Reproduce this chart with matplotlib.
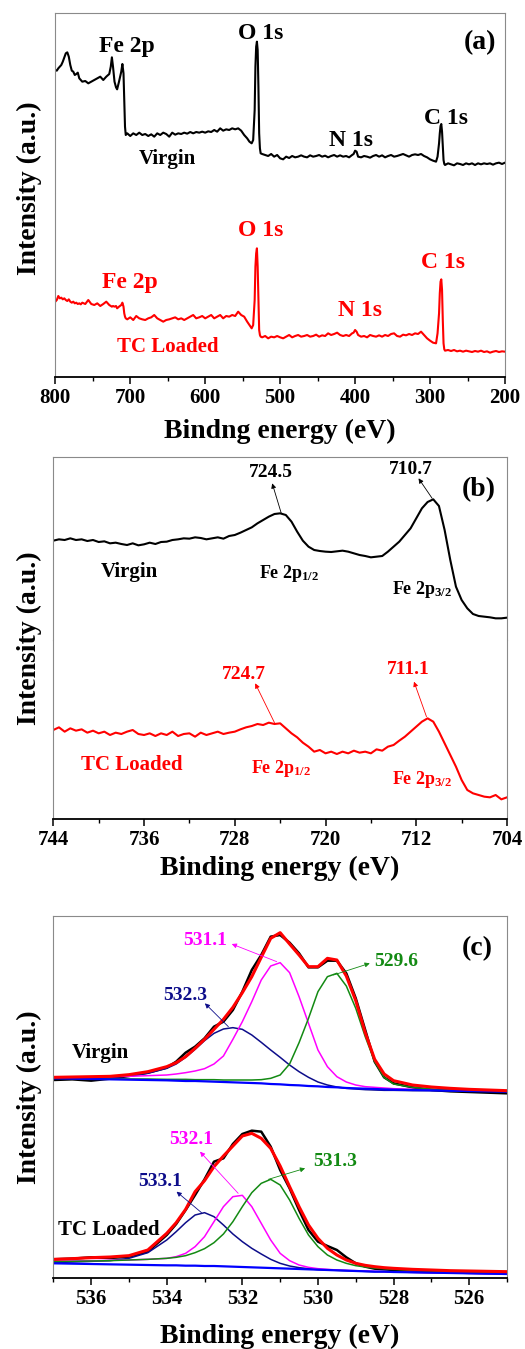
import numpy as np
import matplotlib
matplotlib.use("Agg")
import matplotlib.pyplot as plt
from matplotlib.ticker import MultipleLocator

plt.rcParams['font.family'] = ['Liberation Serif', 'DejaVu Serif']
plt.rcParams['font.weight'] = 'bold'
plt.rcParams['mathtext.fontset'] = 'custom'
plt.rcParams['mathtext.rm'] = 'Liberation Serif:bold'
plt.rcParams['mathtext.it'] = 'Liberation Serif:bold'
plt.rcParams['mathtext.bf'] = 'Liberation Serif:bold'
plt.rcParams['mathtext.default'] = 'rm'

W, H = 525, 1349

# ---------------- (a) survey spectra ----------------
survey_ev = [800, 798, 796, 794, 792, 790, 788, 786, 784, 782, 780, 778, 776, 774, 772, 770,
             768, 766, 764, 760, 756, 752, 748, 744, 740, 736, 732, 728, 726, 724.5, 723, 721,
             719, 717.5, 715, 712, 710.5, 709, 708, 707, 706, 704, 700, 696, 692, 688, 684, 680,
             676, 672, 668, 664, 660, 656, 652, 648, 644, 640, 636, 632, 628, 624, 620, 616,
             612, 608, 604, 600, 596, 592, 588, 584, 580, 576, 572, 568, 564, 560, 556, 552,
             548, 544, 541, 538, 536, 534, 533, 532, 531, 530, 529, 528, 527, 526, 524, 520,
             516, 512, 508, 504, 500, 496, 492, 488, 484, 480, 476, 472, 468, 464, 460, 456,
             452, 448, 444, 440, 436, 432, 428, 424, 420, 416, 412, 408, 404, 402, 400, 398,
             396, 392, 388, 384, 380, 376, 372, 368, 364, 360, 356, 352, 348, 344, 340, 336,
             332, 328, 324, 320, 316, 312, 308, 304, 300, 296, 292, 290, 288, 287, 286, 285,
             284, 283, 282, 281, 280, 276, 272, 268, 264, 260, 256, 252, 248, 244, 240, 236,
             232, 228, 224, 220, 216, 212, 208, 204, 200]
survey_virgin = [920, 918, 925, 930, 935, 945, 958, 970, 973, 960, 935, 918, 915, 905, 908, 912,
                 895, 890, 885, 887, 880, 885, 890, 895, 900, 890, 900, 908, 930, 958, 930, 885,
                 868, 862, 885, 915, 938, 910, 830, 750, 725, 730, 722, 730, 725, 732, 725, 728,
                 722, 727, 720, 730, 725, 732, 728, 720, 732, 726, 730, 728, 732, 729, 734, 730,
                 734, 732, 735, 732, 736, 734, 740, 735, 745, 738, 742, 740, 745, 742, 745, 738,
                 725, 715, 705, 700, 710, 800, 930, 990, 1005, 980, 870, 730, 685, 670, 668, 665,
                 662, 668, 660, 665, 655, 652, 660, 656, 662, 658, 660, 664, 660, 658, 664, 660,
                 662, 665, 660, 663, 658, 662, 665, 660, 664, 660, 662, 658, 665, 668, 678, 675,
                 660, 658, 662, 660, 657, 662, 665, 660, 664, 658, 662, 665, 660, 662, 665, 668,
                 664, 660, 665, 667, 665, 668, 662, 658, 652, 648, 645, 660, 700, 730, 752, 758,
                 735, 690, 650, 638, 635, 640, 637, 634, 640, 638, 635, 640, 637, 640, 635, 640,
                 637, 640, 638, 640, 636, 640, 642, 638, 642]
survey_loaded = [225, 230, 242, 235, 237, 232, 235, 230, 227, 232, 225, 222, 225, 220, 222, 218,
                 220, 217, 222, 218, 230, 218, 215, 220, 212, 218, 225, 215, 212, 210, 212, 210,
                 212, 205, 210, 215, 222, 210, 190, 180, 175, 172, 178, 170, 182, 175, 172, 170,
                 175, 178, 185, 175, 170, 165, 170, 172, 175, 178, 172, 175, 170, 175, 180, 185,
                 175, 178, 182, 175, 180, 185, 175, 180, 185, 175, 182, 180, 185, 182, 195, 185,
                 180, 165, 155, 145, 155, 230, 330, 370, 385, 330, 230, 140, 125, 120, 118, 122,
                 115, 120, 118, 122, 118, 115, 120, 125, 118, 122, 125, 120, 122, 125, 120, 122,
                 126, 120, 124, 122, 130, 125, 128, 132, 125, 122, 125, 122, 130, 132, 140, 135,
                 125, 120, 122, 118, 125, 122, 120, 124, 120, 125, 122, 128, 130, 122, 120, 126,
                 124, 128, 125, 130, 128, 135, 125, 115, 108, 102, 100, 130, 190, 250, 285, 292,
                 260, 170, 100, 82, 78, 80, 77, 80, 76, 78, 75, 78, 76, 74, 77, 75,
                 78, 74, 76, 72, 75, 77, 74, 76, 75]

# ---------------- (b) Fe 2p ----------------
fe_ev = [744.0, 743.5, 743.0, 742.5, 742.0, 741.5, 741.0, 740.5, 740.0, 739.5, 739.0, 738.5,
         738.0, 737.5, 737.0, 736.5, 736.0, 735.5, 735.0, 734.5, 734.0, 733.5, 733.0, 732.5,
         732.0, 731.5, 731.0, 730.5, 730.0, 729.5, 729.0, 728.5, 728.0, 727.5, 727.0, 726.5,
         726.0, 725.5, 725.0, 724.5, 724.0, 723.5, 723.0, 722.5, 722.0, 721.5, 721.0, 720.5,
         720.0, 719.5, 719.0, 718.5, 718.0, 717.5, 717.0, 716.5, 716.0, 715.5, 715.0, 714.5,
         714.0, 713.5, 713.0, 712.5, 712.0, 711.5, 711.0, 710.5, 710.0, 709.5, 709.0, 708.5,
         708.0, 707.5, 707.0, 706.5, 706.0, 705.5, 705.0, 704.5, 704.0]
fe_virgin = [836, 840, 838, 843, 838, 840, 835, 838, 832, 834, 828, 830,
             826, 823, 828, 822, 825, 830, 826, 832, 833, 838, 840, 843,
             842, 846, 844, 840, 843, 846, 842, 850, 853, 860, 868, 876,
             888, 898, 908, 916, 918, 913, 893, 863, 836, 818, 808, 805,
             803, 802, 804, 806, 803, 798, 793, 790, 786, 788, 790, 803,
             818, 833, 853, 873, 903, 933, 952, 960, 940, 868, 778, 698,
             658, 633, 616, 610, 608, 606, 603, 603, 605]
fe_loaded = [268, 276, 263, 273, 266, 270, 260, 266, 258, 263, 253, 260,
             256, 263, 268, 256, 253, 258, 250, 258, 253, 263, 250, 256,
             258, 248, 260, 253, 258, 263, 256, 260, 263, 270, 276, 280,
             286, 283, 290, 286, 288, 273, 258, 246, 230, 218, 203, 208,
             198, 203, 196, 203, 198, 206, 200, 203, 198, 210, 206, 218,
             223, 236, 248, 263, 278, 293, 303, 293, 263, 228, 193, 158,
             118, 88, 78, 73, 68, 66, 73, 60, 66]

# ---------------- (c) O 1s ----------------
o_ev = [537, 536.5, 536, 535.5, 535, 534.5, 534, 533.75, 533.5, 533.25, 533, 532.75, 532.5,
        532.25, 532, 531.75, 531.5, 531.25, 531, 530.75, 530.5, 530.25, 530, 529.75, 529.5,
        529.25, 529, 528.75, 528.5, 528.25, 528, 527.5, 527, 526.5, 526, 525.5, 525]
o_virgin_raw = [594, 596, 592, 598, 606, 616, 631, 649, 676, 694, 719, 754, 769,
                804, 859, 924, 969, 1024, 1029, 1006, 974, 932, 932, 952, 952,
                914, 839, 744, 649, 602, 584, 572, 564, 560, 558, 556, 554]
o_virgin_fit = [602, 603, 604, 605, 610, 619, 634, 646, 664, 689, 716, 746, 776,
                812, 856, 904, 962, 1019, 1036, 1002, 969, 934, 934, 959, 954,
                906, 832, 736, 656, 612, 592, 579, 573, 569, 566, 564, 562]
o_virgin_bg = [599, 598, 597, 596, 595, 594, 593, 592, 591, 591, 590, 589, 588,
               587, 586, 585, 584, 582, 581, 579, 578, 576, 575, 573, 572,
               570, 569, 568, 567, 566, 565, 564, 563, 562, 561, 560, 559]
o_virgin_p1 = [599, 600, 601, 602, 606, 614, 629, 642, 662, 686, 712, 734, 747,
               751, 746, 729, 707, 684, 662, 639, 619, 602, 588, 579, 573,
               569, 567, 565, 564, 563, 563, 562, 562, 561, 560, 560, 559]
o_virgin_p2 = [602, 602, 603, 604, 605, 607, 609, 612, 616, 621, 628, 642, 666,
               716, 769, 829, 894, 936, 946, 916, 844, 764, 684, 634, 604,
               588, 579, 574, 572, 570, 568, 566, 565, 564, 563, 562, 561]
o_virgin_p3 = [599, 599, 598, 598, 597, 597, 596, 596, 596, 595, 595, 595, 594,
               594, 594, 594, 595, 599, 609, 642, 706, 779, 859, 904, 914,
               876, 809, 724, 649, 602, 582, 572, 567, 564, 563, 562, 561]

o_loaded_raw = [56, 58, 62, 60, 64, 79, 129, 162, 204, 249, 296, 349, 359,
                402, 432, 442, 439, 394, 324, 269, 204, 144, 109, 96, 84,
                62, 44, 34, 28, 26, 24, 21, 19, 18, 16, 17, 14]
o_loaded_fit = [56, 58, 61, 63, 67, 84, 134, 166, 206, 259, 292, 334, 366,
                396, 426, 434, 419, 389, 336, 274, 214, 159, 119, 89, 69,
                54, 44, 38, 34, 31, 29, 26, 24, 22, 21, 20, 19]
o_loaded_bg = [44, 43, 42, 41, 40, 39, 38, 38, 37, 37, 36, 36, 35,
               34, 33, 32, 31, 30, 29, 28, 27, 26, 25, 24, 23,
               22, 21, 20, 19, 19, 18, 17, 16, 15, 14, 13, 12]
o_loaded_p1 = [46, 48, 50, 52, 59, 76, 114, 139, 166, 189, 196, 184, 159,
               132, 109, 89, 72, 56, 44, 36, 31, 28, 25, 24, 23,
               22, 21, 20, 19, 19, 18, 17, 16, 15, 14, 13, 12]
o_loaded_p2 = [50, 51, 52, 53, 54, 56, 59, 64, 74, 94, 124, 169, 214,
               244, 248, 214, 164, 114, 74, 52, 39, 32, 28, 26, 24,
               23, 22, 21, 20, 19, 18, 17, 16, 15, 14, 13, 13]
o_loaded_p3 = [49, 50, 51, 52, 54, 56, 59, 62, 67, 76, 88, 106, 132,
               169, 214, 256, 284, 296, 279, 234, 179, 129, 94, 69, 54,
               44, 37, 33, 30, 28, 26, 23, 21, 19, 18, 17, 16]

NAVY = '#0d0d8a'
MAGENTA = '#ff00ff'
GREEN = '#138a13'


def stacked_axes(fig, y0, z_top, z_gap, z_bot, left_px, right_px):
    # two layers on top of each other, like an Origin stacked graph
    top_px = y0 + z_top / 3
    gap_px = y0 + z_gap / 3
    bot_px = y0 + z_bot / 3
    x0 = left_px / W
    w = (right_px - left_px) / W
    ax_hi = fig.add_axes([x0, 1 - (gap_px - 0.5) / H, w, (gap_px - 0.5 - top_px) / H])
    ax_lo = fig.add_axes([x0, 1 - bot_px / H, w, (bot_px - gap_px - 0.5) / H])
    ax_hi.set_ylim(z_bot - z_gap + 1.5, z_bot - z_top)
    ax_lo.set_ylim(0, z_bot - z_gap - 1.5)
    for ax in (ax_hi, ax_lo):
        for side in ('left', 'right', 'top'):
            ax.spines[side].set_color('#8a8a8a')
            ax.spines[side].set_linewidth(0.8)
        ax.spines['bottom'].set_color('black')
        ax.spines['bottom'].set_linewidth(1.3)
        ax.set_yticks([])
    ax_hi.spines['bottom'].set_visible(False)
    ax_lo.spines['top'].set_visible(False)
    ax_hi.tick_params(bottom=False, labelbottom=False)
    ax_lo.tick_params(axis='x', which='major', direction='out', length=5, width=1.1,
                      labelsize=15, pad=3, top=False)
    ax_lo.tick_params(axis='x', which='minor', direction='out', length=3, width=1.0, top=False)
    return ax_hi, ax_lo


def fig_text(x_px, y_px, s, **kw):
    fig.text(x_px / W, 1 - y_px / H, s, ha='center', va='center', **kw)


def arrow(ax, start, end, color):
    ax.annotate('', xy=end, xytext=start,
                arrowprops=dict(arrowstyle='-|>', color=color, lw=0.6,
                                mutation_scale=7, shrinkA=0, shrinkB=0))


fig = plt.figure(figsize=(W / 100, H / 100), dpi=100)

# --- 1. survey ---
a_hi, a_lo = stacked_axes(fig, 0, 40, 580, 1130, 55.3, 505)
a_hi.plot(survey_ev, survey_virgin, color='black', lw=1.5)
a_lo.plot(survey_ev, survey_loaded, color='red', lw=1.5)
for ax in (a_hi, a_lo):
    ax.set_xlim(800, 200)
a_lo.xaxis.set_major_locator(MultipleLocator(100))
a_lo.xaxis.set_minor_locator(MultipleLocator(50))

a_hi.text(704.4, 990, 'Fe 2p', fontsize=17, ha='center', va='center')
a_hi.text(525.8, 1030, 'O 1s', fontsize=17, ha='center', va='center')
a_hi.text(405.8, 710, 'N 1s', fontsize=17, ha='center', va='center')
a_hi.text(279.1, 775, 'C 1s', fontsize=17, ha='center', va='center')
a_hi.text(649.8, 653, 'Virgin', fontsize=15, ha='center', va='center')
a_hi.text(233.3, 1002, '(a)', fontsize=20, ha='center', va='center')
a_lo.text(700, 282, 'Fe 2p', fontsize=17, color='red', ha='center', va='center')
a_lo.text(525.8, 440, 'O 1s', fontsize=17, color='red', ha='center', va='center')
a_lo.text(393.3, 198, 'N 1s', fontsize=17, color='red', ha='center', va='center')
a_lo.text(282.2, 342, 'C 1s', fontsize=17, color='red', ha='center', va='center')
a_lo.text(649.8, 90, 'TC Loaded', fontsize=15, color='red', ha='center', va='center')

fig_text(280, 431, 'Bindng energy (eV)', fontsize=20)
fig_text(29, 188, 'Intensity (a.u.)', fontsize=20, rotation=90)

# --- 2. Fe 2p ---
b_hi, b_lo = stacked_axes(fig, 450, 22, 570, 1108, 53.3, 507)
b_hi.plot(fe_ev, fe_virgin, color='black', lw=1.5)
b_lo.plot(fe_ev, fe_loaded, color='red', lw=1.5)
for ax in (b_hi, b_lo):
    ax.set_xlim(744, 704)
b_lo.xaxis.set_major_locator(MultipleLocator(8))
b_lo.xaxis.set_minor_locator(MultipleLocator(4))

b_hi.text(724.8, 1040, '724.5', fontsize=14, ha='center', va='center')
b_hi.text(712.5, 1048, '710.7', fontsize=14, ha='center', va='center')
arrow(b_hi, (723.9, 918), (724.7, 1008), 'black')
arrow(b_hi, (710.6, 963), (711.8, 1023), 'black')
b_hi.text(706.5, 988, '(b)', fontsize=20, ha='center', va='center')
b_hi.text(737.3, 743, 'Virgin', fontsize=15, ha='center', va='center')
b_hi.text(723.2, 738, r'Fe 2p$_{1/2}$', fontsize=13, ha='center', va='center')
b_hi.text(711.5, 688, r'Fe 2p$_{3/2}$', fontsize=13, ha='center', va='center')
b_lo.text(727.2, 433, '724.7', fontsize=14, color='red', ha='center', va='center')
b_lo.text(712.7, 448, '711.1', fontsize=14, color='red', ha='center', va='center')
arrow(b_lo, (724.5, 290), (726.2, 408), 'red')
arrow(b_lo, (711.1, 308), (712.2, 413), 'red')
b_lo.text(737.1, 163, 'TC Loaded', fontsize=15, color='red', ha='center', va='center')
b_lo.text(723.9, 153, r'Fe 2p$_{1/2}$', fontsize=13, color='red', ha='center', va='center')
b_lo.text(711.5, 118, r'Fe 2p$_{3/2}$', fontsize=13, color='red', ha='center', va='center')

fig_text(280, 868, 'Binding energy (eV)', fontsize=20)
fig_text(29, 638, 'Intensity (a.u.)', fontsize=20, rotation=90)

# --- 3. O 1s ---
c_hi, c_lo = stacked_axes(fig, 870, 137, 680, 1224, 53.3, 507)
for ax, raw, fit, bg, p1, p2, p3 in (
        (c_hi, o_virgin_raw, o_virgin_fit, o_virgin_bg, o_virgin_p1, o_virgin_p2, o_virgin_p3),
        (c_lo, o_loaded_raw, o_loaded_fit, o_loaded_bg, o_loaded_p1, o_loaded_p2, o_loaded_p3)):
    ax.plot(o_ev, raw, color='black', lw=1.8)
    ax.plot(o_ev, p1, color=NAVY, lw=1.1)
    ax.plot(o_ev, p2, color=MAGENTA, lw=1.1)
    ax.plot(o_ev, p3, color=GREEN, lw=1.1)
    ax.plot(o_ev, bg, color='blue', lw=1.6)
    ax.plot(o_ev, fit, color='red', lw=2.2)
    ax.set_xlim(537, 525)
c_lo.xaxis.set_major_locator(MultipleLocator(2))
c_lo.xaxis.set_minor_locator(MultipleLocator(1))

c_hi.text(532.99, 1012, '531.1', fontsize=14, color=MAGENTA, ha='center', va='center')
arrow(c_hi, (531.09, 949), (532.28, 1002), MAGENTA)
c_hi.text(533.52, 846, '532.3', fontsize=14, color=NAVY, ha='center', va='center')
arrow(c_hi, (532.37, 754), (532.99, 824), NAVY)
c_hi.text(527.92, 949, '529.6', fontsize=14, color=GREEN, ha='center', va='center')
arrow(c_hi, (529.59, 909), (528.63, 944), GREEN)
c_hi.text(525.79, 989, '(c)', fontsize=20, ha='center', va='center')
c_hi.text(535.76, 676, 'Virgin', fontsize=15, ha='center', va='center')
c_lo.text(533.34, 414, '532.1', fontsize=14, color=MAGENTA, ha='center', va='center')
arrow(c_lo, (532.11, 254), (533.12, 379), MAGENTA)
c_lo.text(534.18, 289, '533.1', fontsize=14, color=NAVY, ha='center', va='center')
arrow(c_lo, (533.08, 196), (533.74, 259), NAVY)
c_lo.text(529.55, 349, '531.3', fontsize=14, color=GREEN, ha='center', va='center')
arrow(c_lo, (531.31, 296), (530.34, 329), GREEN)
c_lo.text(535.54, 144, 'TC Loaded', fontsize=15, ha='center', va='center')

fig_text(280, 1336, 'Binding energy (eV)', fontsize=20)
fig_text(29, 1097, 'Intensity (a.u.)', fontsize=20, rotation=90)

fig.savefig('out.png', dpi=100)
